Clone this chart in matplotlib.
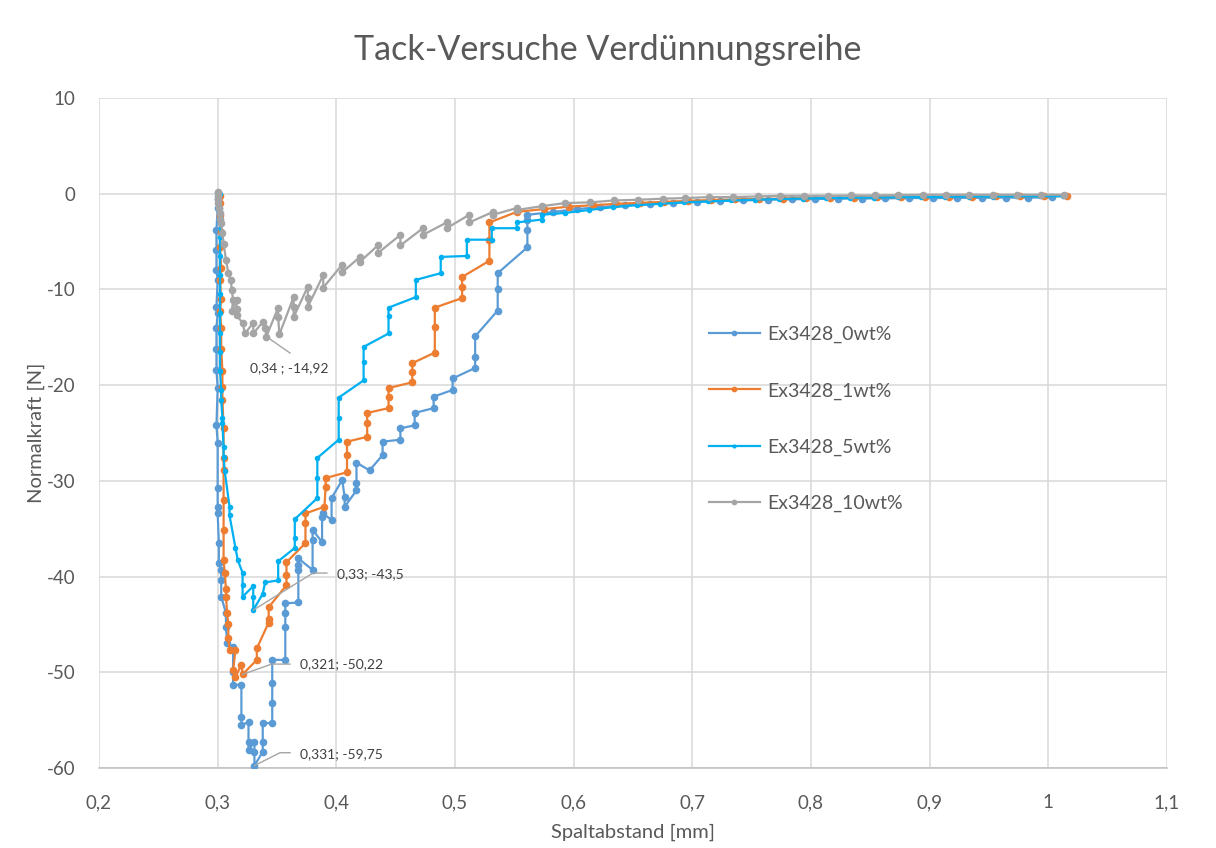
import matplotlib
matplotlib.use("Agg")
import matplotlib.pyplot as plt
from matplotlib.ticker import FuncFormatter, MultipleLocator

plt.rcParams["font.family"] = ["Lato", "DejaVu Sans"]

# Gap (mm) and normal force (N) for each dilution step

gap_0wt = [
    0.300, 0.300, 0.300, 0.299, 0.299, 0.299, 0.300, 0.299, 0.300, 0.299,
    0.299, 0.299, 0.300, 0.299, 0.300, 0.300, 0.300, 0.300, 0.301, 0.301,
    0.303, 0.303, 0.303, 0.307, 0.307, 0.308, 0.313, 0.313, 0.313, 0.320,
    0.320, 0.320, 0.326, 0.326, 0.326, 0.331, 0.331, 0.331, 0.338, 0.338,
    0.338, 0.346, 0.346, 0.346, 0.346, 0.357, 0.357, 0.357, 0.357, 0.368,
    0.368, 0.368, 0.368, 0.380, 0.380, 0.380, 0.388, 0.388, 0.389, 0.396,
    0.396, 0.405, 0.407, 0.407, 0.417, 0.417, 0.417, 0.428, 0.439, 0.439,
    0.454, 0.454, 0.466, 0.466, 0.482, 0.482, 0.498, 0.498, 0.517, 0.517,
    0.517, 0.536, 0.536, 0.536, 0.561, 0.561, 0.561, 0.561,
    0.583, 0.603, 0.622, 0.643, 0.664, 0.684, 0.704, 0.723, 0.743, 0.764,
    0.784, 0.803, 0.823, 0.843, 0.862, 0.883, 0.903, 0.923, 0.944, 0.964,
    0.983, 1.003,
]
force_0wt = [
    0.1, -0.5, -1.5, -3.8, -5.9, -8.0, -9.0, -11.8, -12.5, -14.0,
    -16.2, -18.4, -20.3, -24.2, -26.0, -30.7, -32.7, -33.4, -36.5, -38.6,
    -39.3, -40.4, -42.1, -43.8, -45.3, -46.9, -47.4, -50.0, -51.3, -51.3,
    -54.7, -55.5, -55.2, -57.3, -58.1, -57.3, -58.3, -59.75, -58.3, -57.3,
    -55.3, -55.3, -53.2, -51.1, -48.7, -48.7, -45.3, -43.8, -42.8, -42.7,
    -39.3, -38.8, -38.1, -39.3, -36.2, -35.1, -36.4, -33.8, -33.4, -34.1,
    -31.8, -29.9, -31.7, -32.7, -31.0, -30.2, -28.1, -28.9, -27.3, -25.9,
    -25.7, -24.5, -24.2, -22.9, -22.4, -21.2, -20.5, -19.3, -18.2, -17.1,
    -14.9, -12.2, -9.9, -8.3, -5.6, -3.8, -2.7, -2.2,
    -1.9, -1.6, -1.4, -1.2, -1.1, -0.95, -0.85, -0.75, -0.7, -0.62,
    -0.58, -0.55, -0.52, -0.5, -0.48, -0.45, -0.45, -0.43, -0.42, -0.4,
    -0.4, -0.38,
]

gap_1wt = [
    0.302, 0.302, 0.302, 0.303, 0.302, 0.303, 0.302, 0.303, 0.302, 0.303,
    0.303, 0.304, 0.304, 0.304, 0.305, 0.305, 0.305, 0.305, 0.305, 0.305,
    0.306, 0.307, 0.307, 0.308, 0.309, 0.309, 0.310, 0.315, 0.313, 0.315,
    0.320, 0.321, 0.333, 0.333, 0.343, 0.343, 0.343, 0.358, 0.358, 0.358,
    0.374, 0.374, 0.374, 0.390, 0.391, 0.391, 0.409, 0.409, 0.409, 0.426,
    0.426, 0.426, 0.444, 0.444, 0.444, 0.464, 0.464, 0.464, 0.483, 0.483,
    0.483, 0.506, 0.506, 0.506, 0.529, 0.529, 0.529, 0.552,
    0.575, 0.596, 0.616, 0.636, 0.656, 0.676, 0.696, 0.716, 0.736, 0.756,
    0.776, 0.796, 0.816, 0.836, 0.856, 0.876, 0.896, 0.916, 0.936, 0.956,
    0.976, 0.996, 1.016,
]
force_1wt = [
    -0.2, -1.0, -2.2, -4.0, -5.6, -7.8, -9.0, -11.0, -12.3, -14.0,
    -16.2, -18.5, -20.2, -21.5, -24.5, -27.6, -28.9, -32.0, -35.1, -38.3,
    -39.6, -41.3, -42.1, -43.8, -45.0, -46.4, -47.7, -47.7, -49.8, -50.5,
    -49.2, -50.22, -48.7, -47.5, -44.8, -44.4, -43.2, -40.9, -39.8, -38.5,
    -36.5, -34.4, -33.4, -32.7, -30.6, -29.7, -29.1, -27.3, -25.9, -25.4,
    -23.9, -22.9, -22.4, -21.2, -20.3, -19.7, -18.6, -17.7, -16.6, -13.9,
    -11.9, -10.9, -9.7, -8.7, -7.0, -4.8, -3.0, -1.9,
    -1.6, -1.35, -1.2, -1.05, -0.95, -0.85, -0.75, -0.65, -0.6, -0.55,
    -0.5, -0.45, -0.42, -0.4, -0.37, -0.35, -0.33, -0.3, -0.3, -0.28,
    -0.27, -0.25, -0.25,
]

gap_5wt = [
    0.302, 0.302, 0.302, 0.302, 0.302, 0.302, 0.302, 0.302, 0.302, 0.302,
    0.302, 0.303, 0.303, 0.304, 0.304, 0.305, 0.305, 0.306, 0.310, 0.310,
    0.315, 0.317, 0.321, 0.321, 0.321, 0.330, 0.330, 0.330, 0.338, 0.340,
    0.351, 0.351, 0.365, 0.365, 0.365, 0.384, 0.384, 0.384, 0.402, 0.402,
    0.402, 0.423, 0.423, 0.423, 0.444, 0.444, 0.444, 0.467, 0.467, 0.488,
    0.488, 0.510, 0.510, 0.531, 0.531, 0.552, 0.552, 0.573, 0.573,
    0.593, 0.613, 0.633, 0.653, 0.673, 0.693, 0.713, 0.733, 0.753, 0.773,
    0.793, 0.813, 0.833, 0.853, 0.873, 0.893, 0.913, 0.933, 0.953, 0.973,
    0.993, 1.012,
]
force_5wt = [
    0.0, -1.5, -3.0, -4.5, -6.5, -8.5, -10.5, -12.5, -14.5, -16.5,
    -18.5, -20.5, -21.5, -23.4, -24.0, -26.5, -27.5, -29.0, -32.7, -33.6,
    -37.0, -38.3, -39.6, -40.9, -42.1, -41.0, -42.1, -43.5, -41.8, -40.6,
    -40.4, -38.4, -37.0, -36.0, -34.0, -31.8, -29.7, -27.6, -25.7, -23.4,
    -21.3, -19.5, -17.6, -16.0, -14.6, -12.8, -11.9, -10.8, -9.0, -8.3,
    -6.6, -6.5, -4.8, -4.8, -3.6, -3.6, -3.0, -2.7, -2.2,
    -2.0, -1.7, -1.4, -1.2, -1.05, -0.9, -0.8, -0.7, -0.62, -0.55,
    -0.5, -0.45, -0.42, -0.4, -0.37, -0.35, -0.33, -0.3, -0.3, -0.28,
    -0.27, -0.26,
]

gap_10wt = [
    0.300, 0.300, 0.300, 0.300, 0.301, 0.302, 0.302, 0.303, 0.304, 0.305,
    0.307, 0.309, 0.311, 0.312, 0.313, 0.312, 0.316, 0.316, 0.316, 0.321,
    0.323, 0.330, 0.330, 0.338, 0.340, 0.341, 0.351, 0.351, 0.352, 0.364,
    0.364, 0.364, 0.376, 0.376, 0.376, 0.389, 0.389, 0.405, 0.405, 0.420,
    0.420, 0.435, 0.435, 0.454, 0.454, 0.473, 0.473, 0.493, 0.493, 0.512,
    0.512, 0.532, 0.532, 0.552, 0.552, 0.573,
    0.593, 0.614, 0.634, 0.654, 0.675, 0.694, 0.714, 0.734, 0.755, 0.774,
    0.794, 0.814, 0.834, 0.854, 0.873, 0.894, 0.914, 0.933, 0.953, 0.974,
    0.994, 1.013,
]
force_10wt = [
    0.2, -0.2, -0.6, -1.0, -1.5, -2.0, -2.6, -3.1, -4.1, -5.2,
    -6.9, -8.3, -9.0, -10.1, -11.1, -12.2, -11.1, -12.0, -12.7, -13.5,
    -14.6, -13.5, -14.6, -13.4, -14.0, -14.92, -11.9, -12.9, -14.7, -10.8,
    -11.8, -12.9, -9.7, -10.9, -11.8, -8.5, -9.8, -7.4, -8.2, -6.6,
    -7.1, -5.4, -6.2, -4.3, -5.4, -3.6, -4.3, -3.0, -3.6, -2.2,
    -3.0, -1.9, -2.2, -1.5, -1.7, -1.3,
    -0.97, -0.9, -0.7, -0.63, -0.52, -0.45, -0.35, -0.35, -0.28, -0.21,
    -0.21, -0.21, -0.18, -0.18, -0.14, -0.1, -0.1, -0.1, -0.1, -0.1,
    -0.1, -0.1,
]

series = [
    ("Ex3428_0wt%", gap_0wt, force_0wt, "#5B9BD5", 5.5),
    ("Ex3428_1wt%", gap_1wt, force_1wt, "#ED7D31", 5.5),
    ("Ex3428_5wt%", gap_5wt, force_5wt, "#00B0F0", 4.0),
    ("Ex3428_10wt%", gap_10wt, force_10wt, "#A5A5A5", 5.5),
]

# labelled extreme points: (x, y, text, leader path, text position, alignment)
callouts = [
    (0.341, -14.92, "0,34 ; -14,92", [(0.361, -16.64)], (0.3601, -18.2), "center"),
    (0.330, -43.5, "0,33; -43,5", [(0.3803, -39.63), (0.3921, -39.63)], (0.4006, -39.7), "left"),
    (0.321, -50.22, "0,321; -50,22", [(0.3455, -49.14), (0.361, -49.14)], (0.3694, -49.1), "left"),
    (0.331, -59.75, "0,331; -59,75", [(0.3525, -58.4), (0.361, -58.4)], (0.3694, -58.5), "left"),
]

text_col = "#595959"
grid_col = "#D9D9D9"

fig = plt.figure(figsize=(12.16, 8.48), dpi=100)
ax = fig.add_axes([0.0814, 0.0943, 0.8783, 0.7901])

for name, xs, ys, col, ms in series:
    ax.plot(xs, ys, color=col, linewidth=1.6, marker="o", markersize=ms,
            markeredgewidth=0, label=name, zorder=3)

for px, py, txt, path, (tx, ty), ha in callouts:
    lx = [px] + [p[0] for p in path]
    ly = [py] + [p[1] for p in path]
    ax.plot(lx, ly, color="#A5A5A5", linewidth=1.0, zorder=4)
    ax.text(tx, ty, txt, ha=ha, va="center", fontsize=10, color="#404040", zorder=5)

ax.set_xlim(0.2, 1.1)
ax.set_ylim(-60, 10)
ax.xaxis.set_major_locator(MultipleLocator(0.1))
ax.yaxis.set_major_locator(MultipleLocator(10))
ax.xaxis.set_major_formatter(FuncFormatter(lambda v, p: f"{round(v, 1):g}".replace(".", ",")))
ax.yaxis.set_major_formatter(FuncFormatter(lambda v, p: f"{round(v):g}".replace("\u2212", "-")))

ax.grid(True, color=grid_col, linewidth=1.1, zorder=0)
ax.set_axisbelow(True)
for side in ["top", "right", "left"]:
    ax.spines[side].set_visible(False)
ax.spines["bottom"].set_color("#BFBFBF")
ax.spines["bottom"].set_linewidth(1.1)
ax.tick_params(axis="both", length=0, labelsize=13.5, labelcolor=text_col)
ax.tick_params(axis="x", pad=19)
ax.tick_params(axis="y", pad=17)

ax.set_xlabel("Spaltabstand [mm]", fontsize=14.5, color=text_col, labelpad=9)
ax.set_ylabel("Normalkraft [N]", fontsize=14.5, color=text_col, labelpad=1)
fig.text(0.5, 1 - 50 / 848, "Tack-Versuche Verdünnungsreihe", ha="center",
         va="center", fontsize=24.5, color=text_col)

ax.legend(loc="center left", bbox_to_anchor=(709 / 1216, 1 - 419 / 848),
          bbox_transform=fig.transFigure, frameon=False, fontsize=14,
          labelcolor=text_col, handlelength=2.6, handletextpad=0.4,
          labelspacing=2.0, borderpad=0, borderaxespad=0, markerscale=0.75)

fig.savefig("out.png", dpi=100)
